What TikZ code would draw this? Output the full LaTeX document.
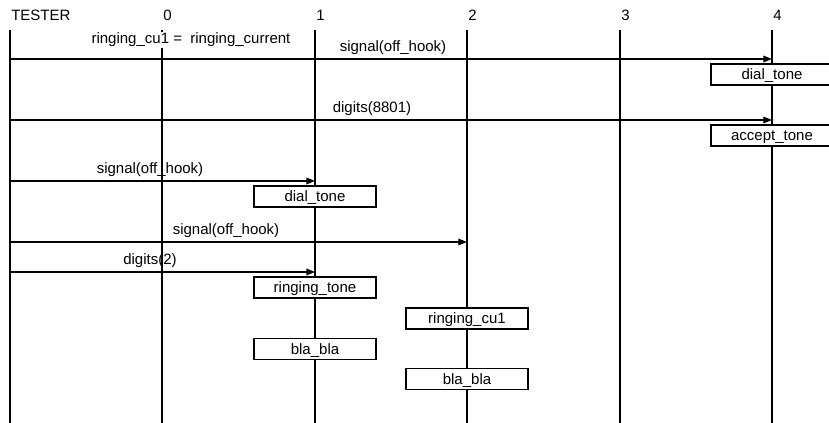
\documentclass[tikz,border=0pt]{standalone}
\usepackage{fontspec}
\setmainfont{Liberation Sans}
\usetikzlibrary{arrows.meta}
\tikzset{
  life/.style={line width=0.9pt},
  msg/.style={line width=0.9pt,-{Triangle[length=6.5pt,width=5pt]}},
  msglbl/.style={inner sep=0.75pt,anchor=base},
  statebox/.style={draw,line width=0.9pt,fill=white,minimum width=91.5pt,minimum height=15.75pt,inner sep=0pt,text height=8.2pt,text depth=0pt},
}
\begin{document}
\begin{tikzpicture}[x=0.75pt,y=0.75pt,yscale=-1,xscale=1,font=\fontsize{11.25}{13}\selectfont]
\useasboundingbox (0,0) rectangle (829,423);
% lifelines and their heads
\node [anchor=base west,inner sep=0.75pt] (tester) at (10,21) {TESTER};
\foreach \n/\x in {t/10,0/162,1/315,2/467,3/620,4/772}{
  \coordinate (top\n) at (\x,30);
  \coordinate (bot\n) at (\x,423);
  \draw [life] (top\n) -- (bot\n);
}
\foreach \n/\x in {0/162,1/315,2/467,3/620,4/772}
  \node [anchor=base west,inner sep=0.75pt] (head\n) at (\x,21) {\n};
\node [fill=white,inner sep=0.75pt,anchor=base] (note) at (191,43.5) {ringing\_cu1 =\ \ ringing\_current};
% messages from the tester
\foreach \i/\y/\x/\lx/\lab in {1/59/772/393/signal(off\_hook),2/120/772/372/digits(8801),3/181/315/150/signal(off\_hook),4/242/467/226/signal(off\_hook),5/272/315/150/digits(2)}{
  \coordinate (m\i a) at (10,\y);
  \coordinate (m\i b) at (\x,\y);
  \draw [msg] (m\i a) -- (m\i b);
  \node [msglbl] (lbl\i) at (\lx,\y-7.7) {\lab};
}
% states
\node [statebox] (dial4) at (772,74.5) {dial\_tone};
\node [statebox] (accept4) at (772,135.5) {accept\_tone};
\node [statebox] (dial1) at (315,196.5) {dial\_tone};
\node [statebox] (ringing1) at (315,287.5) {ringing\_tone};
\node [statebox] (ringcu2) at (467,318.5) {ringing\_cu1};
\node [statebox] (bla1) at (315,349) {bla\_bla};
\node [statebox] (bla2) at (467,379) {bla\_bla};
\end{tikzpicture}
\end{document}
